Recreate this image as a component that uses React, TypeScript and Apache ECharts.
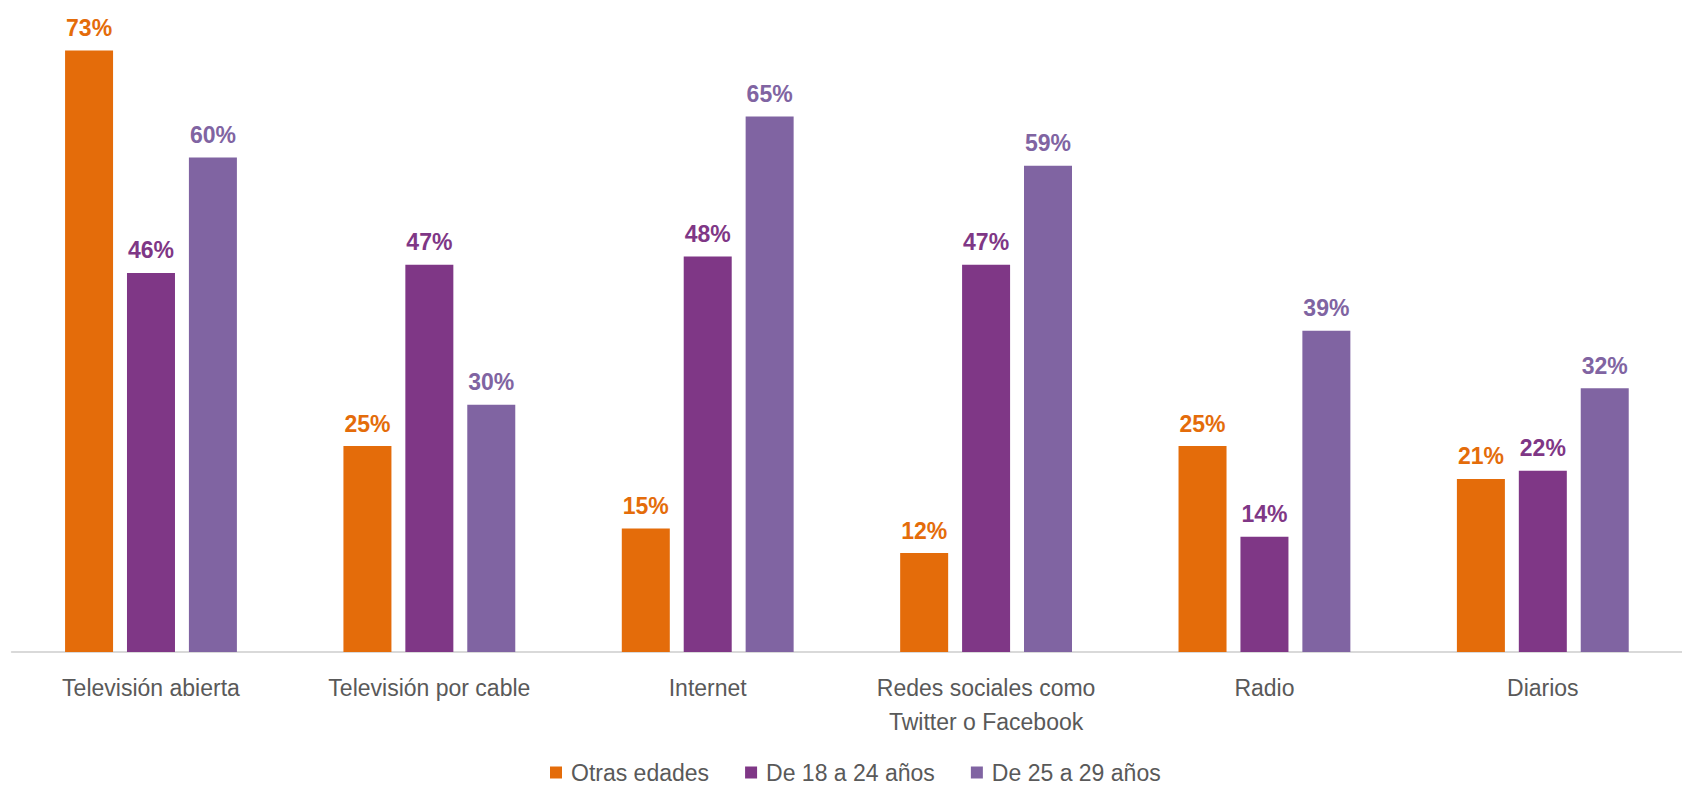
import React, { useEffect, useRef } from "react";
import * as echarts from "echarts";

const categories = [
  "Televisión abierta",
  "Televisión por cable",
  "Internet",
  "Redes sociales como\nTwitter o Facebook",
  "Radio",
  "Diarios",
];
const seriesNames = ["Otras edades", "De 18 a 24 años", "De 25 a 29 años"];
const otrasEdades = [73, 25, 15, 12, 25, 21];
const de18a24 = [46, 47, 48, 47, 14, 22];
const de25a29 = [60, 30, 65, 59, 39, 32];
const colors = ["#E46C0A", "#7F3786", "#8064A2"];

const FONT = "'Liberation Sans Narrow', 'Arial Narrow', 'Liberation Sans', Arial, sans-serif";

export default function App() {
  const ref = useRef<HTMLDivElement>(null);
  useEffect(() => {
    document.body.style.margin = "0";
    const chart = echarts.init(ref.current!, null, { renderer: "svg" });
    const values = [otrasEdades, de18a24, de25a29];
    chart.setOption({
      animation: false,
      textStyle: { fontFamily: FONT },
      grid: { left: 11.8, right: -9.8, top: 34, bottom: 133, containLabel: false },
      legend: {
        data: seriesNames,
        left: 550,
        top: 761,
        padding: 0,
        itemWidth: 12,
        itemHeight: 12,
        itemGap: 36,
        icon: "rect",
        textStyle: { fontFamily: FONT, fontSize: 23, color: "#595959", padding: [0, 0, 0, 4] },
      },
      xAxis: {
        type: "category",
        data: categories,
        axisLine: { show: true, lineStyle: { color: "#D9D9D9", width: 2 } },
        axisTick: { show: false },
        axisLabel: {
          fontFamily: FONT,
          fontSize: 23,
          color: "#595959",
          margin: 19,
          lineHeight: 34,
          interval: 0,
        },
      },
      yAxis: {
        type: "value",
        min: 0,
        max: 75,
        show: false,
        splitLine: { show: false },
      },
      series: seriesNames.map((name, i) => ({
        name,
        type: "bar",
        data: values[i],
        barWidth: 48,
        barGap: "29%",
        itemStyle: { color: colors[i] },
        label: {
          show: true,
          position: "top",
          distance: 11,
          formatter: "{c}%",
          fontFamily: FONT,
          fontSize: 23,
          fontWeight: "bold",
          color: colors[i],
        },
      })),
    });
    return () => chart.dispose();
  }, []);
  return <div ref={ref} style={{ width: 1682, height: 785 }} />;
}
